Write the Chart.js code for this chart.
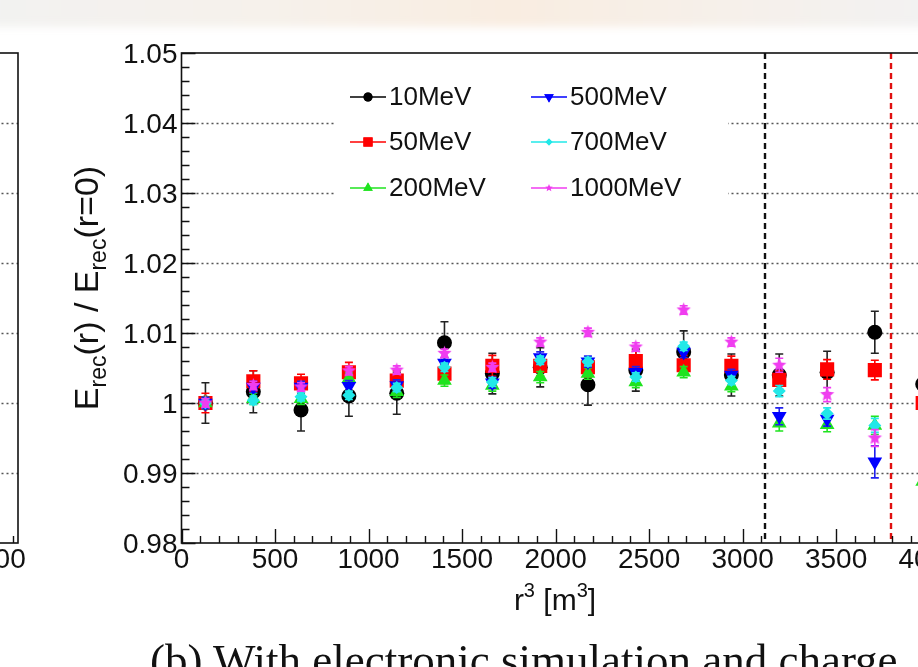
<!DOCTYPE html>
<html>
<head>
<meta charset="utf-8">
<script src="https://cdn.jsdelivr.net/npm/chart.js@4/dist/chart.umd.min.js"></script>
<style>
  html, body { margin: 0; padding: 0; width: 918px; height: 667px; overflow: hidden; background: #fff; }
  #haze { position: absolute; left: -20px; top: -12px; width: 960px; height: 39px;
          background: linear-gradient(90deg, #f2f2f1 0%, #f6f1eb 30%, #f9ede1 55%, #f6f0ea 78%, #f2f2f2 100%);
          filter: blur(4px); }
  #left { position: absolute; left: -935px; top: 0; }
  #main { position: absolute; left: 0; top: 0; }
  #caption { position: absolute; left: 150px; top: 638px; font-family: "Liberation Serif", "Times New Roman", serif;
             font-size: 45px; line-height: 45px; white-space: nowrap; color: #111; }
</style>
</head>
<body>
<div id="haze"></div>
<canvas id="left" width="1000" height="667"></canvas>
<canvas id="main" width="1000" height="667"></canvas>
<div id="caption">(b) With electronic simulation and charge</div>
<script>
// bin centres in r^3 [m^3]
var rCubed = [128, 384, 639, 895, 1151, 1406, 1662, 1918, 2173, 2429, 2685, 2940, 3196, 3452, 3707, 3963];

// E_rec(r) / E_rec(r=0) per energy, with errors
var ratio10   = [1.0000, 1.0016, 0.9990, 1.0010, 1.0014, 1.0086, 1.0042, 1.0051, 1.0026, 1.0047, 1.0073, 1.0040, 1.0040, 1.0044, 1.0101, 1.0027];
var err10     = [0.0029, 0.0030, 0.0030, 0.0029, 0.0030, 0.0030, 0.0029, 0.0028, 0.0029, 0.0030, 0.0030, 0.0030, 0.0030, 0.0030, 0.0030, 0.0030];
var ratio50   = [1.0000, 1.0031, 1.0028, 1.0044, 1.0032, 1.0042, 1.0053, 1.0053, 1.0051, 1.0060, 1.0054, 1.0053, 1.0033, 1.0048, 1.0047, 1.0000];
var err50     = [0.0014, 0.0015, 0.0013, 0.0014, 0.0014, 0.0014, 0.0015, 0.0014, 0.0014, 0.0014, 0.0014, 0.0014, 0.0013, 0.0014, 0.0014, 0.0014];
var ratio200  = [1.0000, 1.0006, 1.0006, 1.0035, 1.0016, 1.0032, 1.0025, 1.0037, 1.0042, 1.0030, 1.0044, 1.0024, 0.9971, 0.9969, 0.9968, 0.9888];
var err200    = [0.0008, 0.0008, 0.0008, 0.0008, 0.0008, 0.0008, 0.0008, 0.0008, 0.0008, 0.0008, 0.0008, 0.0008, 0.0011, 0.0010, 0.0013, 0.0012];
var ratio500  = [1.0000, 1.0023, 1.0023, 1.0024, 1.0025, 1.0057, 1.0029, 1.0065, 1.0059, 1.0044, 1.0073, 1.0040, 0.9981, 0.9977, 0.9916, null];
var err500    = [0.0008, 0.0008, 0.0008, 0.0008, 0.0008, 0.0008, 0.0008, 0.0008, 0.0008, 0.0008, 0.0008, 0.0008, 0.0012, 0.0010, 0.0023, 0];
var ratio700  = [1.0000, 1.0004, 1.0009, 1.0011, 1.0022, 1.0051, 1.0030, 1.0061, 1.0059, 1.0037, 1.0081, 1.0032, 1.0017, 0.9985, 0.9968, null];
var err700    = [0.0006, 0.0006, 0.0006, 0.0006, 0.0006, 0.0006, 0.0006, 0.0006, 0.0006, 0.0006, 0.0006, 0.0006, 0.0008, 0.0008, 0.0010, 0];
var ratio1000 = [1.0000, 1.0025, 1.0023, 1.0046, 1.0047, 1.0071, 1.0051, 1.0087, 1.0101, 1.0080, 1.0133, 1.0087, 1.0054, 1.0012, 0.9950, null];
var err1000   = [0.0006, 0.0006, 0.0006, 0.0006, 0.0006, 0.0006, 0.0006, 0.0006, 0.0006, 0.0006, 0.0006, 0.0006, 0.0010, 0.0010, 0.0012, 0];

// vertical boundaries (r^3)
var boundaryR3 = [3120, 3792];

// axis ticks
var yTickValues = [0.98, 0.99, 1.00, 1.01, 1.02, 1.03, 1.04, 1.05];
var yTickLabels = ['0.98', '0.99', '1', '1.01', '1.02', '1.03', '1.04', '1.05'];
var xTickValues = [0, 500, 1000, 1500, 2000, 2500, 3000, 3500, 4000];
var xTickLabels = ['0', '500', '1000', '1500', '2000', '2500', '3000', '3500', '4000'];

var X_MAX = 4125, Y_MIN = 0.98, Y_MAX = 1.05;
var FONT = '"Liberation Sans", Arial, sans-serif';

function starImage(color, r) {
    var c = document.createElement('canvas');
    var s = Math.ceil(r * 2 + 2);
    c.width = s; c.height = s;
    var g = c.getContext('2d');
    g.fillStyle = color;
    g.beginPath();
    for (var k = 0; k < 10; k++) {
        var a = -Math.PI / 2 + k * Math.PI / 5;
        var rr = k % 2 ? r * 0.45 : r;
        g.lineTo(s / 2 + rr * Math.cos(a), s / 2 + rr * Math.sin(a));
    }
    g.closePath();
    g.fill();
    return c;
}

var series = [
    { label: '10MeV',   y: ratio10,   err: err10,   color: '#000000', bar: '#222222', style: 'circle',   radius: 7.5, legendRadius: 4.5, rot: 0 },
    { label: '50MeV',   y: ratio50,   err: err50,   color: '#ff0000', bar: '#ff0000', style: 'rect',     radius: 10,  legendRadius: 6.5, rot: 0 },
    { label: '200MeV',  y: ratio200,  err: err200,  color: '#1fe31f', bar: '#1fe31f', style: 'triangle', radius: 8.5, legendRadius: 5.5, rot: 0 },
    { label: '500MeV',  y: ratio500,  err: err500,  color: '#0000ff', bar: '#2020ee', style: 'triangle', radius: 8.5, legendRadius: 5.5, rot: 180 },
    { label: '700MeV',  y: ratio700,  err: err700,  color: '#22e8e8', bar: '#22e8e8', style: 'rectRot',  radius: 6.5, legendRadius: 3.5, rot: 0 },
    { label: '1000MeV', y: ratio1000, err: err1000, color: '#f03cf0', bar: '#f03cf0', style: null,       radius: 7.5, legendRadius: 4,   rot: 0 }
];
series.forEach(function(s) {
    if (!s.style) {
        s.style = starImage(s.color, s.radius);
        s.legendStyle = starImage(s.color, s.legendRadius);
    }
});

function drawMarker(ctx, s, x, y) {
    if (s.legendStyle) {
        ctx.drawImage(s.legendStyle, x - s.legendStyle.width / 2, y - s.legendStyle.height / 2);
        return;
    }
    Chart.helpers.drawPoint(ctx, { pointStyle: s.style, radius: s.legendRadius, rotation: s.rot, borderWidth: 0 }, x, y);
    ctx.fill();
}

function drawYTitle(ctx, x, y) {
    var big = '34px ' + FONT, sub = '23px ' + FONT;
    var parts = [['E', big, 0], ['rec', sub, 8], ['(r) / E', big, 0], ['rec', sub, 8], ['(r=0)', big, 0]];
    var w = 0;
    parts.forEach(function(p) { ctx.font = p[1]; w += ctx.measureText(p[0]).width; });
    ctx.save();
    ctx.translate(x, y);
    ctx.rotate(-Math.PI / 2);
    ctx.textAlign = 'left';
    ctx.textBaseline = 'alphabetic';
    var cx = -w / 2;
    parts.forEach(function(p) {
        ctx.font = p[1];
        ctx.fillText(p[0], cx, p[2]);
        cx += ctx.measureText(p[0]).width;
    });
    ctx.restore();
}

function drawXTitle(ctx, x, y) {
    var big = '30px ' + FONT, sup = '20px ' + FONT;
    var parts = [['r', big, 0], ['3', sup, -13], [' [m', big, 0], ['3', sup, -13], [']', big, 0]];
    var w = 0;
    parts.forEach(function(p) { ctx.font = p[1]; w += ctx.measureText(p[0]).width; });
    ctx.textAlign = 'left';
    ctx.textBaseline = 'alphabetic';
    var cx = x - w / 2;
    parts.forEach(function(p) {
        ctx.font = p[1];
        ctx.fillText(p[0], cx, y + p[2]);
        cx += ctx.measureText(p[0]).width;
    });
}

var rootFrame = {
    id: 'rootFrame',
    beforeDatasetsDraw: function(chart, args, opts) {
        var a = chart.chartArea, ctx = chart.ctx, ys = chart.scales.y;
        ctx.save();
        ctx.strokeStyle = '#555';
        ctx.lineWidth = 1.3;
        ctx.setLineDash([2, 3]);
        yTickValues.forEach(function(v) {
            if (v <= Y_MIN || v >= Y_MAX) return;
            var py = Math.round(ys.getPixelForValue(v)) + 0.5;
            ctx.beginPath();
            ctx.moveTo(a.left, py);
            ctx.lineTo(a.right, py);
            ctx.stroke();
        });
        ctx.setLineDash([]);
        if (opts.legend) {
            ctx.fillStyle = '#fff';
            ctx.fillRect(335, 66, 393, 146);
        }
        ctx.restore();
    },
    beforeDatasetDraw: function(chart, args) {
        var s = series[args.index];
        if (!s) return;
        var a = chart.chartArea, ctx = chart.ctx, xs = chart.scales.x, ys = chart.scales.y;
        ctx.save();
        ctx.beginPath();
        ctx.rect(a.left, a.top, a.right - a.left, a.bottom - a.top);
        ctx.clip();
        ctx.strokeStyle = s.bar;
        ctx.lineWidth = 1.6;
        rCubed.forEach(function(r, j) {
            var v = s.y[j];
            if (v === null) return;
            var px = xs.getPixelForValue(r);
            var y1 = ys.getPixelForValue(v - s.err[j]), y2 = ys.getPixelForValue(v + s.err[j]);
            ctx.beginPath();
            ctx.moveTo(px, y1); ctx.lineTo(px, y2);
            ctx.moveTo(px - 4, y1); ctx.lineTo(px + 4, y1);
            ctx.moveTo(px - 4, y2); ctx.lineTo(px + 4, y2);
            ctx.stroke();
        });
        ctx.restore();
    },
    afterDatasetsDraw: function(chart, args, opts) {
        var a = chart.chartArea, ctx = chart.ctx, xs = chart.scales.x, ys = chart.scales.y;
        ctx.save();

        if (opts.boundaries) {
            ctx.lineWidth = 2.4;
            ctx.setLineDash([6, 4]);
            boundaryR3.forEach(function(r, i) {
                var px = Math.round(xs.getPixelForValue(r));
                ctx.strokeStyle = i === 0 ? '#111' : '#e01010';
                ctx.beginPath();
                ctx.moveTo(px, a.top);
                ctx.lineTo(px, a.bottom);
                ctx.stroke();
            });
            ctx.setLineDash([]);
        }

        // frame
        ctx.strokeStyle = '#111';
        ctx.lineWidth = 1.6;
        ctx.strokeRect(a.left, a.top, a.right - a.left, a.bottom - a.top);

        // ticks, drawn inward
        ctx.lineWidth = 1.4;
        ctx.beginPath();
        for (var k = 0; k <= 35; k++) {
            var py = Math.round(ys.getPixelForValue(Y_MIN + k * 0.002)) + 0.5;
            ctx.moveTo(a.left, py);
            ctx.lineTo(a.left + (k % 5 === 0 ? 14 : 8), py);
        }
        for (var m = 0; m * 100 <= X_MAX; m++) {
            var px = Math.round(xs.getPixelForValue(m * 100)) + 0.5;
            ctx.moveTo(px, a.bottom);
            ctx.lineTo(px, a.bottom - (m % 5 === 0 ? 14 : 7));
        }
        ctx.stroke();

        // tick labels
        ctx.fillStyle = '#111';
        ctx.font = '28px ' + FONT;
        ctx.textBaseline = 'alphabetic';
        ctx.textAlign = 'right';
        yTickValues.forEach(function(v, i) {
            ctx.fillText(yTickLabels[i], a.left - 4, ys.getPixelForValue(v) + 10);
        });
        ctx.textAlign = 'center';
        xTickValues.forEach(function(v, i) {
            ctx.fillText(xTickLabels[i], xs.getPixelForValue(v), a.bottom + 25);
        });

        drawXTitle(ctx, 555, 610);
        drawYTitle(ctx, 98, 288);

        if (opts.legend) {
            var colX = [350, 531], rowY = [97, 142, 188];
            ctx.font = '26px ' + FONT;
            ctx.textAlign = 'left';
            ctx.textBaseline = 'middle';
            series.forEach(function(s, i) {
                var lx = colX[Math.floor(i / 3)], ly = rowY[i % 3];
                ctx.strokeStyle = s.color;
                ctx.fillStyle = s.color;
                ctx.lineWidth = 1.6;
                ctx.beginPath();
                ctx.moveTo(lx, ly);
                ctx.lineTo(lx + 36, ly);
                ctx.stroke();
                drawMarker(ctx, s, lx + 18, ly);
                ctx.fillStyle = '#111';
                ctx.fillText(s.label, lx + 39, ly + 1);
            });
        }
        ctx.restore();
    }
};

function makeChart(id, datasets, frameOpts) {
    return new Chart(document.getElementById(id), {
        type: 'scatter',
        data: { datasets: datasets },
        options: {
            responsive: false,
            animation: false,
            devicePixelRatio: 1,
            layout: { padding: { left: 181.5, top: 53, right: 47, bottom: 124 } },
            scales: {
                x: { type: 'linear', min: 0, max: X_MAX, display: false },
                y: { type: 'linear', min: Y_MIN, max: Y_MAX, display: false }
            },
            plugins: {
                legend: { display: false },
                tooltip: { enabled: false },
                rootFrame: frameOpts
            }
        },
        plugins: [rootFrame]
    });
}

// neighbouring panel: only its right edge shows
makeChart('left', [], { legend: false, boundaries: false });

makeChart('main', series.map(function(s, i) {
    var pts = [];
    rCubed.forEach(function(r, j) {
        if (s.y[j] !== null) pts.push({ x: r, y: s.y[j] });
    });
    return {
        label: s.label,
        data: pts,
        order: series.length - i,
        showLine: false,
        pointStyle: s.style,
        pointRadius: s.radius,
        pointRotation: s.rot,
        pointBackgroundColor: s.color,
        pointBorderColor: s.color,
        pointBorderWidth: 0
    };
}), { legend: true, boundaries: true });
</script>
</body>
</html>
